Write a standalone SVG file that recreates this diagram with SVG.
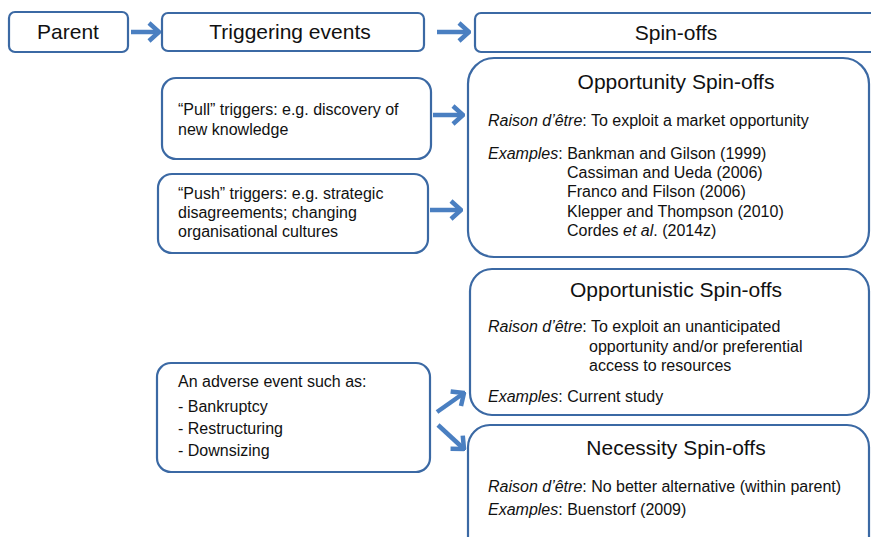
<svg xmlns="http://www.w3.org/2000/svg" width="871" height="537" viewBox="0 0 871 537">
<style>
.box{fill:#fff;stroke:#3b69a4;stroke-width:2.2}
.hd{font-family:"Liberation Sans",Arial,sans-serif;font-size:21px;fill:#111;text-anchor:middle}
.tt{font-family:"Liberation Sans",Arial,sans-serif;font-size:21px;fill:#111;text-anchor:middle}
.tx{font-family:"Liberation Sans",Arial,sans-serif;font-size:16px;fill:#111}
.it{font-style:italic}
.ar{stroke:#4a7fc1;stroke-width:4.5;fill:none}
</style>
<defs>
<marker id="chev" viewBox="0 0 14 22" refX="12" refY="11" markerWidth="14" markerHeight="22" markerUnits="userSpaceOnUse" orient="auto">
<path d="M2,2 L12,11 L2,20" fill="none" stroke="#4a7fc1" stroke-width="4.5" stroke-linejoin="miter"/>
</marker>
</defs>
<rect width="871" height="537" fill="#fff"/>
<g id="connectors">
<line class="ar" x1="131" y1="32" x2="159" y2="32" marker-end="url(#chev)"/>
<line class="ar" x1="437" y1="32" x2="469" y2="32" marker-end="url(#chev)"/>
<line class="ar" x1="433" y1="115" x2="463" y2="115" marker-end="url(#chev)"/>
<line class="ar" x1="430" y1="210" x2="461" y2="210" marker-end="url(#chev)"/>
<line class="ar" x1="437" y1="412" x2="464" y2="393" marker-end="url(#chev)"/>
<line class="ar" x1="438" y1="425" x2="464" y2="449" marker-end="url(#chev)"/>
</g>
<g id="parent">
<rect class="box" x="9" y="12" width="119" height="40" rx="6"/>
<text class="hd" x="68" y="39">Parent</text>
</g>
<g id="triggering">
<rect class="box" x="162" y="13" width="262" height="38" rx="6"/>
<text class="hd" x="290" y="39">Triggering events</text>
</g>
<g id="spinoffs">
<rect class="box" x="475" y="13" width="410" height="39" rx="6"/>
<text class="hd" x="676" y="40">Spin-offs</text>
</g>
<g id="pull">
<rect class="box" x="162" y="78" width="269" height="81" rx="14"/>
<text class="tx" x="178" y="115">“Pull” triggers: e.g. discovery of</text>
<text class="tx" x="178" y="135">new knowledge</text>
</g>
<g id="push">
<rect class="box" x="158" y="174" width="270" height="79" rx="14"/>
<text class="tx" x="178" y="199">“Push” triggers: e.g. strategic</text>
<text class="tx" x="178" y="218">disagreements; changing</text>
<text class="tx" x="178" y="237">organisational cultures</text>
</g>
<g id="adverse">
<rect class="box" x="157" y="363" width="273" height="109" rx="14"/>
<text class="tx" x="178" y="387">An adverse event such as:</text>
<text class="tx" x="178" y="412">- Bankruptcy</text>
<text class="tx" x="178" y="434">- Restructuring</text>
<text class="tx" x="178" y="456">- Downsizing</text>
</g>
<g id="opportunity">
<rect class="box" x="468" y="58" width="401" height="199" rx="26"/>
<text class="tt" x="676" y="89">Opportunity Spin-offs</text>
<text class="tx" x="488" y="126"><tspan class="it">Raison d’être</tspan>: To exploit a market opportunity</text>
<text class="tx" x="488" y="159"><tspan class="it">Examples</tspan>: Bankman and Gilson (1999)</text>
<text class="tx" x="567" y="178">Cassiman and Ueda (2006)</text>
<text class="tx" x="567" y="197">Franco and Filson (2006)</text>
<text class="tx" x="567" y="217">Klepper and Thompson (2010)</text>
<text class="tx" x="567" y="236">Cordes <tspan class="it">et al</tspan>. (2014z)</text>
</g>
<g id="opportunistic">
<rect class="box" x="470" y="269" width="399" height="146" rx="22"/>
<text class="tt" x="676" y="297">Opportunistic Spin-offs</text>
<text class="tx" x="488" y="332"><tspan class="it">Raison d’être</tspan>: To exploit an unanticipated</text>
<text class="tx" x="589" y="352">opportunity and/or preferential</text>
<text class="tx" x="589" y="371">access to resources</text>
<text class="tx" x="488" y="402"><tspan class="it">Examples</tspan>: Current study</text>
</g>
<g id="necessity">
<rect class="box" x="468" y="425" width="401" height="140" rx="22"/>
<text class="tt" x="676" y="455">Necessity Spin-offs</text>
<text class="tx" x="488" y="492"><tspan class="it">Raison d’être</tspan>: No better alternative (within parent)</text>
<text class="tx" x="488" y="515"><tspan class="it">Examples</tspan>: Buenstorf (2009)</text>
</g>
</svg>
